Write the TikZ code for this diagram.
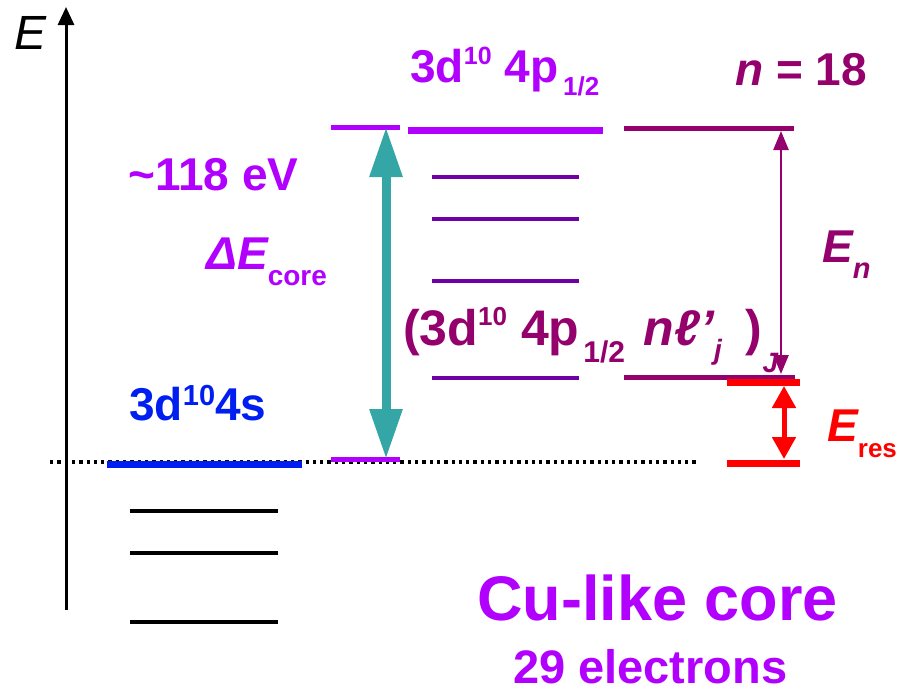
\documentclass[tikz,border=0pt]{standalone}
\usepackage{fontspec}
\setmainfont{Liberation Sans}
\usetikzlibrary{arrows.meta}
\definecolor{vio}{RGB}{178,0,255}
\definecolor{pur}{RGB}{110,0,165}
\definecolor{dmag}{RGB}{148,0,108}
\definecolor{tealc}{RGB}{52,166,166}
\definecolor{blu}{RGB}{0,30,240}
\newcommand\fsz[1]{\fontsize{#1}{#1}\selectfont}
\newcommand\mysup[3]{\raisebox{#1pt}{\fsz{#2}#3}}
\newcommand\mysub[3]{\raisebox{-#1pt}{\fsz{#2}#3}}
\begin{document}
\begin{tikzpicture}[x=1pt,y=-1pt,
  lbl/.style={anchor=base west,inner sep=0pt,font=\fsz{46}\bfseries},
  lvl/.style={line width=#1}]
\useasboundingbox (0,0) rectangle (899,694);
% coordinates
\coordinate (ax0) at (66,610); \coordinate (ax1) at (66,7);
\coordinate (dl) at (50,462); \coordinate (dr) at (698,462);
% axis
\draw[line width=3pt,-{Triangle[width=16pt,length=18pt]}] (ax0) -- (ax1);
\node[anchor=base west,inner sep=0pt,font=\fsz{48}\itshape] (Elab) at (14,49) {E};
% dotted reference line
\draw[line width=3.3pt,dash pattern=on 3.3pt off 4pt] (dl) -- (dr);
% ground configuration levels
\coordinate (g1) at (107,464); \coordinate (g2) at (302,464);
\draw[blu,lvl=7pt] (g1) -- (g2);
\foreach \y/\n in {511/a,553/b,622/c}{
  \coordinate (k\n1) at (130,\y); \coordinate (k\n2) at (278,\y);
  \draw[black,lvl=3.5pt] (k\n1) -- (k\n2);}
% core excitation levels
\coordinate (vt1) at (331,127); \coordinate (vt2) at (400,127);
\coordinate (vb1) at (331,459); \coordinate (vb2) at (400,459);
\draw[vio,lvl=5pt] (vt1) -- (vt2);
\draw[vio,lvl=5pt] (vb1) -- (vb2);
\coordinate (m1) at (408,130); \coordinate (m2) at (603,130);
\draw[vio,lvl=7pt] (m1) -- (m2);
\foreach \y/\n in {177/a,219/b,281/c,378/d}{
  \coordinate (p\n1) at (432,\y); \coordinate (p\n2) at (579,\y);
  \draw[pur,lvl=4pt] (p\n1) -- (p\n2);}
\coordinate (r1) at (624,128); \coordinate (r2) at (794,128);
\coordinate (s1) at (624,377); \coordinate (s2) at (795,377);
\draw[dmag,lvl=5pt] (r1) -- (r2);
\draw[dmag,lvl=5pt] (s1) -- (s2);
\coordinate (q1) at (727,382); \coordinate (q2) at (800,382);
\coordinate (u1) at (727,463); \coordinate (u2) at (800,463);
\draw[red,lvl=7pt] (q1) -- (q2);
\draw[red,lvl=7pt] (u1) -- (u2);
% arrows
\coordinate (ta) at (386,127); \coordinate (tb) at (386,459);
\draw[tealc,line width=9pt,{Triangle[width=31pt,length=50pt]}-{Triangle[width=31pt,length=50pt]}] (ta) -- (tb);
\coordinate (na) at (781,131); \coordinate (nb) at (781,374);
\draw[dmag,line width=2.5pt,{Triangle[width=15pt,length=19pt]}-{Triangle[width=15pt,length=19pt]}] (na) -- (nb);
\coordinate (ea) at (784,386); \coordinate (eb) at (784,459);
\draw[red,line width=5pt,{Triangle[width=23pt,length=22pt]}-{Triangle[width=23pt,length=22pt]}] (ea) -- (eb);
% labels
\node[lbl,vio] (top) at (410,82) {3d\mysup{18}{25}{10} 4p\kern5pt\mysub{13}{26}{1/2}};
\node[lbl,dmag] (nlab) at (735,85) {\itshape n\upshape\ = 18};
\node[lbl,vio] (ev) at (128,190) {\textasciitilde118 eV};
\node[lbl,vio] (dE) at (206,269) {\itshape ΔE\mysub{16}{28}{\upshape core}};
\node[lbl,blu] (gs) at (129,420) {3d\mysup{15}{29}{10}4s};
\node[lbl,dmag] (En) at (822,262) {\itshape E\mysub{16}{29}{n}};
\node[lbl,red] (Er) at (827,441) {\itshape E\mysub{16}{26}{\upshape res}};
\node[lbl,dmag,font=\fsz{50}\bfseries] (mid) at (403,345) {(3d\mysup{20}{26}{10} 4p\kern4pt\mysub{17}{30}{1/2}\kern5pt\ {\itshape nℓ’}\mysub{14}{28}{\itshape j}\kern24pt)\mysub{27}{28}{\itshape J}};
\node[anchor=base west,inner sep=0pt,font=\fsz{63}\bfseries,vio] (cu) at (477,620) {Cu-like core};
\node[anchor=base west,inner sep=0pt,font=\fsz{47}\bfseries,vio] (el) at (513,683) {29 electrons};
\end{tikzpicture}
\end{document}
